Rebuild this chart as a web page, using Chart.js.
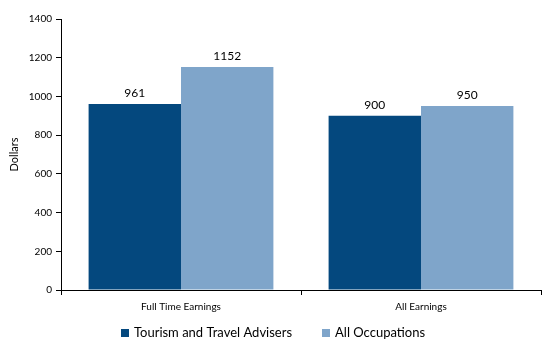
<!DOCTYPE html>
<html><head><meta charset="utf-8">
<script src="https://cdn.jsdelivr.net/npm/chart.js@4"></script>
<style>html,body{margin:0;padding:0;background:#fff}canvas{display:block}</style>
</head><body>
<canvas id="c" width="546" height="355"></canvas>
<script>
const categories = ["Full Time Earnings", "All Earnings"];
const seriesNames = ["Tourism and Travel Advisers", "All Occupations"];
const tourismValues = [961, 900];
const allOccValues = [1152, 950];
const yTicks = [0, 200, 400, 600, 800, 1000, 1200, 1400];

const FONT = "Lato, 'Open Sans', sans-serif";

const labelPlugin = {
  id: 'barLabels',
  afterDatasetsDraw(chart) {
    const ctx = chart.ctx;
    ctx.save();
    ctx.font = "12px " + FONT;
    ctx.fillStyle = "#000";
    ctx.textAlign = "center";
    ctx.textBaseline = "bottom";
    chart.data.datasets.forEach((ds, i) => {
      chart.getDatasetMeta(i).data.forEach((bar, j) => {
        ctx.fillText(String(ds.data[j]), bar.x, bar.y - 5);
      });
    });
    ctx.restore();
  }
};

const legendPlugin = {
  id: 'customLegend',
  afterDraw(chart) {
    const ctx = chart.ctx;
    ctx.save();
    ctx.font = "13px " + FONT;
    ctx.textBaseline = "middle";
    ctx.textAlign = "left";
    const box = 8, gapBoxText = 5, gapItems = 30;
    const items = chart.data.datasets.map(ds => ({ text: ds.label, color: ds.backgroundColor, w: box + gapBoxText + ctx.measureText(ds.label).width }));
    const total = items.reduce((s, it) => s + it.w, 0) + gapItems * (items.length - 1);
    let x = chart.width / 2 - total / 2;
    const cy = 333;
    items.forEach(it => {
      ctx.fillStyle = it.color;
      ctx.fillRect(Math.round(x), cy - 4, box, box);
      ctx.fillStyle = "#000";
      ctx.fillText(it.text, x + box + gapBoxText, cy);
      x += it.w + gapItems;
    });
    ctx.restore();
  }
};

new Chart(document.getElementById('c'), {
  type: 'bar',
  data: {
    labels: categories,
    datasets: [
      { label: seriesNames[0], data: tourismValues, backgroundColor: '#04487E' },
      { label: seriesNames[1], data: allOccValues, backgroundColor: '#7FA5CA' }
    ]
  },
  options: {
    responsive: false,
    animation: false,
    devicePixelRatio: 1,
    layout: { padding: { top: 19, right: 5, left: 8, bottom: 36 } },
    datasets: { bar: { categoryPercentage: 0.77, barPercentage: 1.0 } },
    plugins: {
      legend: { display: false },
      tooltip: { enabled: false }
    },
    scales: {
      x: {
        grid: { display: true, drawOnChartArea: false, drawTicks: true, tickLength: 5, color: '#000', offset: true },
        border: { display: true, color: '#000' },
        ticks: { font: { size: 10, family: FONT }, color: '#000', padding: 6 }
      },
      y: {
        min: 0, max: 1400,
        afterBuildTicks(axis) { axis.ticks = yTicks.map(v => ({ value: v })); },
        afterFit(axis) { axis.width = 53; },
        grid: { display: true, drawOnChartArea: false, drawTicks: true, tickLength: 5, color: '#000' },
        border: { display: true, color: '#000' },
        title: { display: true, text: 'Dollars', font: { size: 11, family: FONT }, color: '#000', padding: 0 },
        ticks: { font: { size: 10, family: FONT }, color: '#000', padding: 4, callback: v => String(v) }
      }
    }
  },
  plugins: [labelPlugin, legendPlugin]
});
</script>
</body></html>
